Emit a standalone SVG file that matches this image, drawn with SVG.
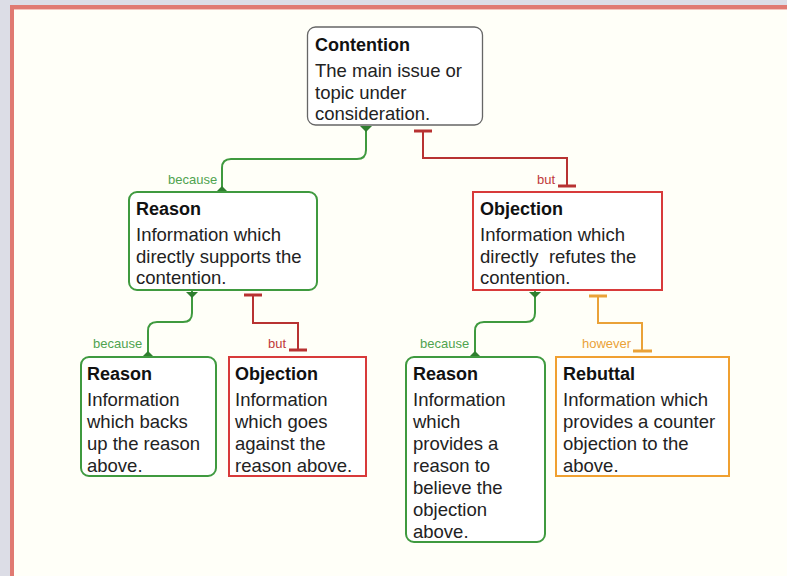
<svg xmlns="http://www.w3.org/2000/svg" width="787" height="576" viewBox="0 0 787 576">
<style>
.t{font-family:"Liberation Sans",Arial,sans-serif;font-size:18.5px;fill:#222}
.h{font-family:"Liberation Sans",Arial,sans-serif;font-size:18px;font-weight:bold;fill:#111}
.lb{font-family:"Liberation Sans",Arial,sans-serif;font-size:13px}
.g{fill:#fff;stroke:#3f9a3f;stroke-width:2}
.r{fill:#fff;stroke:#d83a3a;stroke-width:2}
.o{fill:#fff;stroke:#f0a030;stroke-width:2}
.cg{fill:none;stroke:#3f9a3f;stroke-width:2}
.cr{fill:none;stroke:#b83232;stroke-width:2}
.co{fill:none;stroke:#eaa238;stroke-width:2}
.tr{stroke:#b83232;stroke-width:3}
.to{stroke:#eaa238;stroke-width:3}
</style>
<rect width="787" height="576" fill="#dcdde6"/>
<rect x="10" y="5" width="790" height="580" fill="#e07a72"/>
<rect x="14" y="9" width="780" height="580" fill="#fffff8"/>
<rect x="14" y="9" width="780" height="1" fill="#f3c4bd"/>

<g id="connectors">
<path class="cg" d="M366,126 V150 Q366,159 357,159 H231 Q222,159 222,168 V191"/>
<polygon points="360,126 372,126 366,132" fill="#2f7f2f"/>
<polygon points="216,192 228,192 222,186" fill="#2f7f2f"/>
<path class="cr" d="M423,131 V158 H567 V186"/>
<line class="tr" x1="414" y1="131" x2="432" y2="131"/>
<line class="tr" x1="558" y1="186" x2="576" y2="186"/>
<text class="lb" x="168" y="184" fill="#4fa34f">because</text>
<text class="lb" x="537" y="184" fill="#c03a3a">but</text>

<path class="cg" d="M192,291 V313 Q192,322 183,322 H157 Q148,322 148,331 V356"/>
<polygon points="186,292 198,292 192,298" fill="#2f7f2f"/>
<polygon points="142,357 154,357 148,351" fill="#2f7f2f"/>
<path class="cr" d="M253,295 V323 H298 V350"/>
<line class="tr" x1="244" y1="295" x2="262" y2="295"/>
<line class="tr" x1="289" y1="350" x2="307" y2="350"/>
<text class="lb" x="93" y="348" fill="#4fa34f">because</text>
<text class="lb" x="268" y="348" fill="#c03a3a">but</text>

<path class="cg" d="M535,291 V313 Q535,322 526,322 H484 Q475,322 475,331 V356"/>
<polygon points="529,292 541,292 535,298" fill="#2f7f2f"/>
<polygon points="469,357 481,357 475,351" fill="#2f7f2f"/>
<path class="co" d="M598,296 V323 H642 V351"/>
<line class="to" x1="589" y1="296" x2="607" y2="296"/>
<line class="to" x1="633" y1="351" x2="652" y2="351"/>
<text class="lb" x="420" y="348" fill="#4fa34f">because</text>
<text class="lb" x="582" y="348" fill="#eaa238">however</text>
</g>

<g id="contention">
<rect x="307.5" y="27" width="175" height="98" rx="8" fill="#fff" stroke="#666" stroke-width="1.3"/>
<text class="h" x="315" y="51">Contention</text>
<text class="t" x="315" y="77">The main issue or</text>
<text class="t" x="315" y="99">topic under</text>
<text class="t" x="315" y="120">consideration.</text>
</g>

<g id="reason1">
<rect class="g" x="129" y="192" width="188" height="98" rx="8"/>
<text class="h" x="136" y="215">Reason</text>
<text class="t" x="136" y="241">Information which</text>
<text class="t" x="136" y="263">directly supports the</text>
<text class="t" x="136" y="284">contention.</text>
</g>

<g id="objection1">
<rect class="r" x="473" y="192" width="189" height="98"/>
<text class="h" x="480" y="215">Objection</text>
<text class="t" x="480" y="241">Information which</text>
<text class="t" x="480" y="263" xml:space="preserve" style="white-space:pre">directly  refutes the</text>
<text class="t" x="480" y="284">contention.</text>
</g>

<g id="reason2">
<rect class="g" x="81" y="357" width="135" height="119" rx="8"/>
<text class="h" x="87" y="380">Reason</text>
<text class="t" x="87" y="406">Information</text>
<text class="t" x="87" y="428">which backs</text>
<text class="t" x="87" y="450">up the reason</text>
<text class="t" x="87" y="472">above.</text>
</g>

<g id="objection2">
<rect class="r" x="229" y="357" width="137" height="119"/>
<text class="h" x="235" y="380">Objection</text>
<text class="t" x="235" y="406">Information</text>
<text class="t" x="235" y="428">which goes</text>
<text class="t" x="235" y="450">against the</text>
<text class="t" x="235" y="472">reason above.</text>
</g>

<g id="reason3">
<rect class="g" x="406" y="357" width="139" height="185" rx="8"/>
<text class="h" x="413" y="380">Reason</text>
<text class="t" x="413" y="406">Information</text>
<text class="t" x="413" y="428">which</text>
<text class="t" x="413" y="450">provides a</text>
<text class="t" x="413" y="472">reason to</text>
<text class="t" x="413" y="494">believe the</text>
<text class="t" x="413" y="516">objection</text>
<text class="t" x="413" y="538">above.</text>
</g>

<g id="rebuttal">
<rect class="o" x="556" y="357" width="173" height="119"/>
<text class="h" x="563" y="380">Rebuttal</text>
<text class="t" x="563" y="406">Information which</text>
<text class="t" x="563" y="428">provides a counter</text>
<text class="t" x="563" y="450">objection to the</text>
<text class="t" x="563" y="472">above.</text>
</g>
</svg>
